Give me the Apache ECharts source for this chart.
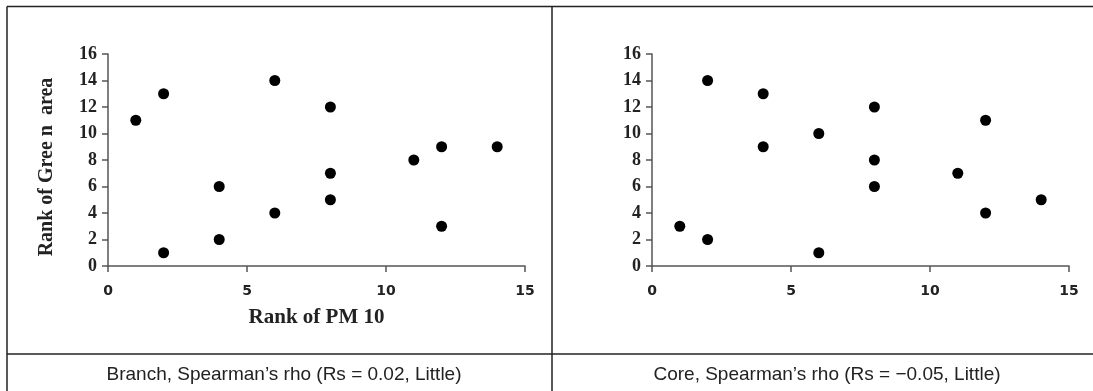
<!DOCTYPE html>
<html>
<head>
<meta charset="utf-8">
<script src="https://cdn.jsdelivr.net/npm/echarts@6/dist/echarts.min.js"></script>
<style>
html,body{margin:0;padding:0;background:#fff;}
#chart{width:1093px;height:391px;}
</style>
</head>
<body>
<div id="chart"></div>
<script>
// Data: [Rank of PM 10, Rank of Green area]
const branchPM10 = [1, 2, 2, 4, 4, 6, 6, 8, 8, 8, 11, 12, 12, 14];
const branchGreen = [11, 13, 1, 6, 2, 14, 4, 12, 7, 5, 8, 9, 3, 9];
const corePM10 = [1, 2, 2, 4, 4, 6, 6, 8, 8, 8, 11, 12, 12, 14];
const coreGreen = [3, 14, 2, 13, 9, 10, 1, 12, 8, 6, 7, 11, 4, 5];
const xTicks = [0, 5, 10, 15];
const yTicks = [0, 2, 4, 6, 8, 10, 12, 14, 16];
const captions = [
  "Branch, Spearman\u2019s rho (Rs = 0.02, Little)",
  "Core, Spearman\u2019s rho (Rs = \u22120.05, Little)"
];
const xTitle = "Rank of PM 10";
const yTitle = "Rank of Gree n  area";

const zip = (a, b) => a.map((v, i) => [v, b[i]]);

const axisColor = '#555';
function xAxis(gi, withName) {
  return {
    type: 'value', gridIndex: gi, min: xTicks[0], max: xTicks[xTicks.length - 1], interval: 5,
    splitLine: {show: false},
    axisLine: {lineStyle: {color: axisColor, width: 1.5}},
    axisTick: {length: 6, lineStyle: {color: axisColor, width: 1.5}},
    axisLabel: {fontFamily: 'DejaVu Sans', fontWeight: 'bold', fontSize: 14, color: '#222', margin: 18},
    name: withName ? xTitle : '', nameLocation: 'middle', nameGap: 41,
    nameTextStyle: {fontFamily: 'Liberation Serif', fontWeight: 'bold', fontSize: 21, color: '#222'}
  };
}
function yAxis(gi, withName) {
  return {
    type: 'value', gridIndex: gi, min: yTicks[0], max: yTicks[yTicks.length - 1], interval: 2,
    splitLine: {show: false},
    axisLine: {show: true, lineStyle: {color: axisColor, width: 1.5}},
    axisTick: {show: true, length: 6, lineStyle: {color: axisColor, width: 1.5}},
    axisLabel: {fontFamily: 'Liberation Serif', fontWeight: 'bold', fontSize: 18, color: '#222', margin: 11},
    name: withName ? yTitle : '', nameLocation: 'middle', nameGap: 51,
    nameTextStyle: {fontFamily: 'Liberation Serif', fontWeight: 'bold', fontSize: 20, color: '#222',
                    padding: [0, 14, 0, 0]}
  };
}

const lineStyle = {stroke: '#222', lineWidth: 1.5};
const chart = echarts.init(document.getElementById('chart'), null, {renderer: 'canvas'});
chart.setOption({
  animation: false,
  backgroundColor: '#fff',
  grid: [
    {left: 108, right: 568, top: 54, bottom: 125},
    {left: 652, right: 24, top: 54, bottom: 125}
  ],
  xAxis: [xAxis(0, true), xAxis(1, false)],
  yAxis: [yAxis(0, true), yAxis(1, false)],
  title: [
    {text: captions[0], left: 279, top: 360, textAlign: 'center',
     textStyle: {fontFamily: 'Liberation Sans', fontWeight: 'normal', fontSize: 19, color: '#222'}},
    {text: captions[1], left: 822, top: 360, textAlign: 'center',
     textStyle: {fontFamily: 'Liberation Sans', fontWeight: 'normal', fontSize: 19, color: '#222'}}
  ],
  graphic: [
    {type: 'line', shape: {x1: 7, y1: 6.5, x2: 1093, y2: 6.5}, style: lineStyle, silent: true},
    {type: 'line', shape: {x1: 7, y1: 6.5, x2: 7, y2: 391}, style: lineStyle, silent: true},
    {type: 'line', shape: {x1: 552, y1: 6.5, x2: 552, y2: 391}, style: lineStyle, silent: true},
    {type: 'line', shape: {x1: 7, y1: 354, x2: 1093, y2: 354}, style: lineStyle, silent: true}
  ],
  series: [
    {type: 'scatter', xAxisIndex: 0, yAxisIndex: 0, data: zip(branchPM10, branchGreen),
     symbol: 'circle', symbolSize: 11, itemStyle: {color: '#000', opacity: 1}},
    {type: 'scatter', xAxisIndex: 1, yAxisIndex: 1, data: zip(corePM10, coreGreen),
     symbol: 'circle', symbolSize: 11, itemStyle: {color: '#000', opacity: 1}}
  ]
});
</script>
</body>
</html>
